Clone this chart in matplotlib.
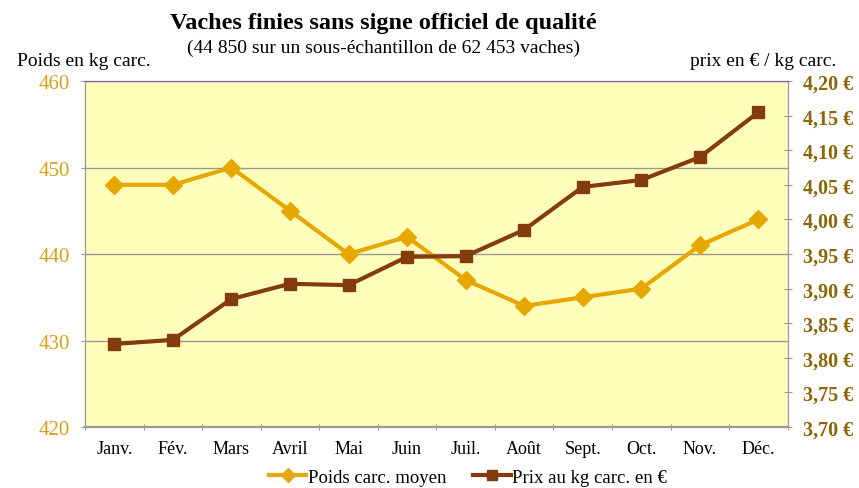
import matplotlib.pyplot as plt
from matplotlib.lines import Line2D

plt.rcParams['font.family'] = ['Liberation Serif', 'DejaVu Serif']

mois = ['Janv.', 'Fév.', 'Mars', 'Avril', 'Mai', 'Juin', 'Juil.', 'Août',
        'Sept.', 'Oct.', 'Nov.', 'Déc.']
poids = [448, 448, 450, 445, 440, 442, 437, 434, 435, 436, 441, 444]
prix = [3.820, 3.826, 3.885, 3.907, 3.905, 3.946, 3.947, 3.985,
        4.047, 4.057, 4.090, 4.155]

gold = '#E6A800'
brown = '#843C0C'
x = list(range(len(mois)))

fig = plt.figure(figsize=(8.59, 4.89), dpi=100)
ax = fig.add_axes([0.099, 0.1247, 0.818, 0.7075])
ax.set_facecolor('#FFFFBB')
ax2 = ax.twinx()

ax.plot(x, poids, color=gold, lw=3, marker='D', ms=9, zorder=3)
ax2.plot(x, prix, color=brown, lw=3, marker='s', ms=9, zorder=3)

ax.set_xlim(-0.5, 11.5)
ax.set_ylim(420, 460)
ax.set_yticks([420, 430, 440, 450, 460])
ax2.set_ylim(3.70, 4.20)
pt = [3.70 + 0.05 * i for i in range(11)]
ax2.set_yticks(pt)
ax2.set_yticklabels([f'{v:.2f} €'.replace('.', ',') for v in pt])

ax.set_xticks([i + 0.5 for i in range(-1, 12)], minor=False)
ax.set_xticklabels([])
ax.set_xticks(x, minor=True)
ax.set_xticklabels(mois, minor=True, fontsize=13)
ax.tick_params(axis='x', which='minor', length=0, pad=9)
ax.tick_params(axis='x', which='major', length=5, color='#999999', direction='inout')

ax.grid(axis='y', color='#999999', lw=1)
ax.set_axisbelow(True)
ax.tick_params(axis='y', colors='#999999', labelcolor='#D4A017', labelsize=15, length=6,
               direction='inout', pad=8)
ax2.tick_params(axis='y', colors='#999999', labelcolor='#8B6508', labelsize=14.5, length=6,
                direction='inout', pad=8)
for lab in ax2.get_yticklabels():
    lab.set_fontweight('bold')

for a in (ax, ax2):
    a.spines['top'].set_color('#8064A2')
    a.spines['left'].set_color('#999999')
    a.spines['right'].set_color('#999999')
    a.spines['bottom'].set_color('#999999')
    a.spines['bottom'].set_linewidth(1.5)

fig.text(0.446, 0.952, 'Vaches finies sans signe officiel de qualité',
         ha='center', va='center', fontsize=17.5, fontweight='bold')
fig.text(0.446, 0.902, '(44 850 sur un sous-échantillon de 62 453 vaches)',
         ha='center', va='center', fontsize=14)
fig.text(0.02, 0.875, 'Poids en kg carc.', ha='left', va='center', fontsize=14)
fig.text(0.803, 0.875, 'prix en € / kg carc.', ha='left', va='center', fontsize=14)

handles = [Line2D([], [], color=gold, lw=3, marker='D', ms=7),
           Line2D([], [], color=brown, lw=3, marker='s', ms=7)]
fig.legend(handles, ['Poids carc. moyen', 'Prix au kg carc. en €'],
           loc='center', bbox_to_anchor=(0.545, 0.022), ncol=2, frameon=False,
           fontsize=13.5, handlelength=2.0, handletextpad=0.1, columnspacing=1.4)

fig.savefig('out.png', dpi=100)
